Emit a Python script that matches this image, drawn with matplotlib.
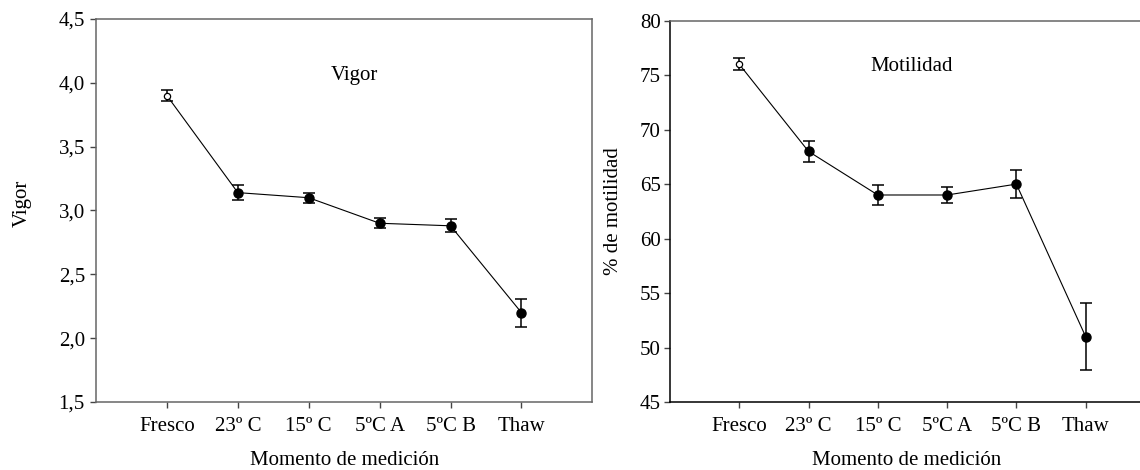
import numpy as np
import matplotlib
matplotlib.use("Agg")
import matplotlib.pyplot as plt

plt.rcParams['font.family'] = ['Liberation Serif', 'DejaVu Serif']
plt.rcParams['font.size'] = 15

# datos
momentos = ['Fresco', '23º C', '15º C', '5ºC A', '5ºC B', 'Thaw']
vigor = [3.90, 3.14, 3.10, 2.90, 2.88, 2.20]
vigor_err = [0.04, 0.06, 0.04, 0.04, 0.05, 0.11]
motilidad = [76.0, 68.0, 64.0, 64.0, 65.0, 51.0]
motilidad_err = [0.55, 0.95, 0.9, 0.75, 1.3, 3.05]

x = np.arange(1, len(momentos) + 1)

fig = plt.figure(figsize=(11.4, 4.7), dpi=100)
ax1 = fig.add_axes([0.0842, 0.1447, 0.4354, 0.8149])
ax2 = fig.add_axes([0.5877, 0.1447, 0.4254, 0.8113])


def panel(ax, vals, errs, spine_col, ypad):
    ax.plot(x, vals, color='black', linewidth=0.8, zorder=2)
    ax.errorbar(x, vals, yerr=errs, fmt='none', ecolor='black',
                elinewidth=1.1, capsize=4, capthick=1.1, zorder=3)
    # primer punto (fresco) con círculo abierto
    ax.plot(x[:1], vals[:1], 'o', markersize=4.5, markerfacecolor='white',
            markeredgecolor='black', markeredgewidth=0.9, zorder=4)
    ax.plot(x[1:], vals[1:], 'o', markersize=6.5, color='black', zorder=4)
    ax.set_xlim(0, 7)
    ax.set_xticks(x)
    ax.set_xticklabels(momentos)
    ax.tick_params(axis='x', length=4.5, width=1, pad=6.5, color='#444444')
    ax.tick_params(axis='y', length=4.5, width=1, pad=ypad, color='#444444')
    for s in ax.spines.values():
        s.set_color(spine_col)
        s.set_linewidth(1.1)


# panel de vigor
panel(ax1, vigor, vigor_err, '#666666', 3.5)
ax1.set_ylim(1.5, 4.5)
ax1.set_yticks(np.arange(1.5, 4.51, 0.5))
ax1.set_yticklabels([f"{v:.1f}".replace('.', ',') for v in np.arange(1.5, 4.51, 0.5)])
ax1.text(3.64, 4.06, 'Vigor', ha='center', va='center')
ax1.set_ylabel('Vigor')
ax1.yaxis.set_label_coords(-0.149, 0.52)
ax1.yaxis.label.set_verticalalignment('center')
ax1.set_xlabel('Momento de medición')
ax1.xaxis.set_label_coords(0.5, -0.1645)
ax1.xaxis.label.set_verticalalignment('baseline')

# panel de motilidad
panel(ax2, motilidad, motilidad_err, 'black', 2)
ax2.spines['top'].set_color('#666666')
ax2.set_ylim(45, 80)
ax2.set_yticks(np.arange(45, 81, 5))
ax2.text(3.49, 75.8, 'Motilidad', ha='center', va='center')
ax2.set_ylabel('% de motilidad')
ax2.yaxis.set_label_coords(-0.116, 0.5)
ax2.yaxis.label.set_verticalalignment('center')
ax2.set_xlabel('Momento de medición')
ax2.xaxis.set_label_coords(0.487, -0.165)
ax2.xaxis.label.set_verticalalignment('baseline')

fig.savefig('out.png', dpi=100)
